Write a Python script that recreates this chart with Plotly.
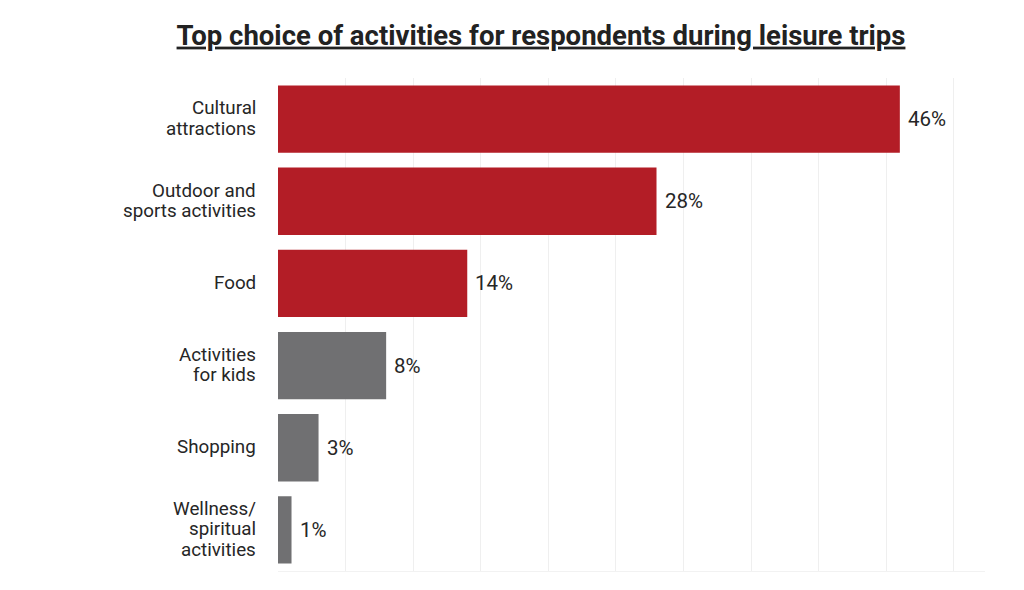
import plotly.graph_objects as go

categories = ["Cultural attractions", "Outdoor and sports activities", "Food",
              "Activities for kids", "Shopping", "Wellness/ spiritual activities"]
label_lines = [["Cultural", "attractions"], ["Outdoor and", "sports activities"], ["Food"],
               ["Activities", "for kids"], ["Shopping"], ["Wellness/", "spiritual", "activities"]]
values = [46, 28, 14, 8, 3, 1]
labels = ["46%", "28%", "14%", "8%", "3%", "1%"]
bar_colors = ["#b31d26", "#b31d26", "#b31d26", "#707072", "#707072", "#707072"]

fig = go.Figure(go.Bar(
    x=values, y=categories, orientation="h",
    marker=dict(color=bar_colors, line=dict(width=0)),
    width=0.82, hoverinfo="x+y",
))

annotations = []
line_h = 20.5
for cat, lines in zip(categories, label_lines):
    n = len(lines)
    for i, ln in enumerate(lines):
        annotations.append(dict(
            x=0, xref="paper", y=cat, yref="y", text=ln, showarrow=False,
            xanchor="right", yanchor="middle", xshift=-21,
            yshift=((n - 1) / 2 - i) * line_h,
            height=20.5, borderpad=0, align="right",
            font=dict(family="Roboto", size=18.8, color="#262626"),
        ))
for cat, v, t in zip(categories, values, labels):
    annotations.append(dict(
        x=v, xref="x", y=cat, yref="y", text=t, showarrow=False,
        xanchor="left", yanchor="middle", xshift=6,
        font=dict(family="Roboto", size=20.5, color="#262626"),
    ))

fig.update_layout(
    width=1024, height=590,
    margin=dict(l=270, r=47, t=70, b=27),
    paper_bgcolor="white", plot_bgcolor="white",
    showlegend=False,
    annotations=annotations,
    title=dict(text="<b><u>Top choice of activities for respondents during leisure trips</u></b>",
               x=533/1024, xanchor="center", y=1 - 27/590, yanchor="middle",
               font=dict(family="Roboto", size=27.5, color="#222222")),
    xaxis=dict(range=[0, 52.3], dtick=5, showgrid=True, gridcolor="#efefef", gridwidth=1,
               showticklabels=False, zeroline=False, showline=True, linecolor="#f2f2f2",
               ticks=""),
    yaxis=dict(autorange="reversed", showgrid=False, zeroline=False, showline=False,
               ticks="", showticklabels=False),
)

fig.write_html("out.html")
